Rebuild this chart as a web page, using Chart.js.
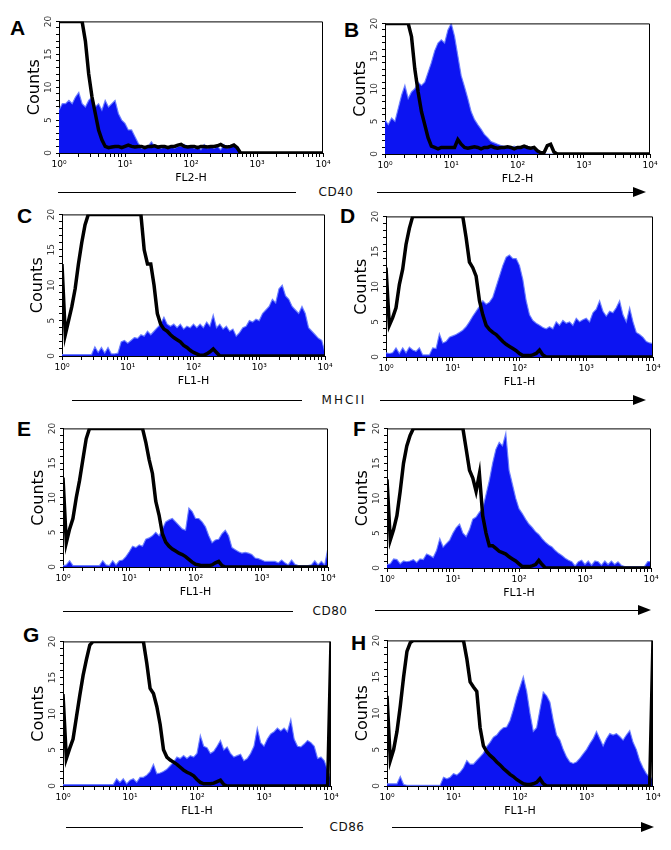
<!DOCTYPE html>
<html>
<head>
<meta charset="utf-8">
<script src="https://cdn.jsdelivr.net/npm/chart.js"></script>
<style>
  html, body { margin: 0; padding: 0; background: #fff; }
  #page { position: relative; width: 671px; height: 850px; overflow: hidden; }
  .panel { position: absolute; }
  .letter { position: absolute; font: bold 21px "Liberation Sans", Arial, sans-serif; line-height: 21px; color: #000; }
  .marker { position: absolute; font: 12px "DejaVu Sans", Verdana, sans-serif; color: #111; transform: translate(-50%, -50%); white-space: nowrap; }
  .rule { position: absolute; height: 1px; background: #000; }
  .head { position: absolute; width: 0; height: 0; border-top: 5px solid transparent; border-bottom: 5px solid transparent; border-left: 13px solid #000; }
</style>
</head>
<body>
<div id="page">
  <div class="letter" style="left:10px;top:17px">A</div>
  <div class="letter" style="left:344px;top:19px">B</div>
  <div class="letter" style="left:17px;top:205px">C</div>
  <div class="letter" style="left:340px;top:205px">D</div>
  <div class="letter" style="left:17px;top:418px">E</div>
  <div class="letter" style="left:353px;top:418px">F</div>
  <div class="letter" style="left:23px;top:624px">G</div>
  <div class="letter" style="left:351px;top:632px">H</div>

  <div class="rule" style="left:58px;top:192px;width:238px"></div>
  <div class="marker" style="left:336px;top:192px;letter-spacing:0.5px">CD40</div>
  <div class="rule" style="left:377px;top:192px;width:258px"></div>
  <div class="head" style="left:633px;top:187px"></div>

  <div class="rule" style="left:72px;top:400px;width:230px"></div>
  <div class="marker" style="left:344px;top:400px;letter-spacing:2px">MHCII</div>
  <div class="rule" style="left:380px;top:400px;width:255px"></div>
  <div class="head" style="left:633px;top:395px"></div>

  <div class="rule" style="left:63px;top:611px;width:230px"></div>
  <div class="marker" style="left:330px;top:611px;letter-spacing:0.5px">CD80</div>
  <div class="rule" style="left:375px;top:610px;width:264px"></div>
  <div class="head" style="left:638px;top:605px"></div>

  <div class="rule" style="left:66px;top:827px;width:237px"></div>
  <div class="marker" style="left:347px;top:827px;letter-spacing:0.5px">CD86</div>
  <div class="rule" style="left:392px;top:827px;width:250px"></div>
  <div class="head" style="left:641px;top:822px"></div>
</div>

<script>
// Histogram channels: 81 bins, 0.05 decade apart, from 10^0 to 10^4
const BIN_DECADES = 0.05;

// Decade tick marks (1..9 per decade) and their labels
const decades = [1, 10, 100, 1000];
const decadeLabels = { 1: "10\u2070", 10: "10\u00b9", 100: "10\u00b2", 1000: "10\u00b3", 10000: "10\u2074" };
const countTickLabels = [0, 5, 10, 15, 20];

// Isotype control (black line) and stained cells (blue fill), counts per bin
const ctrlA = [20, 20, 20, 20, 20, 20, 20, 20, 17, 12, 8.5, 6, 3.5, 2, 1, 0.8,
  0.9, 1, 1, 0.8, 1, 1.2, 1, 0.9, 1, 1, 0.8, 1, 1, 1.1, 0.9, 1, 1, 0.8, 1, 1,
  1.2, 1.3, 1, 0.9, 1, 1, 0.8, 1, 1, 0.9, 1, 1, 1.1, 1.3, 1, 0.9, 1, 1.2, 0.8,
  0, 0, 0, 0, 0, 0, 0, 0, 0, 0, 0, 0, 0, 0, 0, 0, 0, 0, 0, 0, 0, 0, 0, 0, 0, 0];
const cellsA = [6.5, 7.5, 7.5, 8, 7.5, 8.5, 9.2, 7.5, 7, 8, 8.5, 7, 7.5, 6.5, 8, 7,
  7.5, 8, 6, 5, 4.5, 3.5, 3.5, 2.5, 1.5, 0.7, 0.7, 1, 1.7, 1, 1, 0.7, 1, 0.7, 1,
  0.7, 1, 1, 1.3, 1, 1, 0.7, 1, 0.5, 1.3, 0.7, 1, 0.7, 1, 0.5, 1.3, 0.7, 1, 1.2,
  0.8, 0, 0, 0, 0, 0, 0, 0, 0, 0, 0, 0, 0, 0, 0, 0, 0, 0, 0, 0, 0, 0, 0, 0, 0, 0, 0];

const ctrlB = [20, 20, 20, 20, 20, 20, 20, 20, 18, 13, 9.5, 6.5, 4.5, 2.5, 1.2, 1,
  0.8, 1, 1, 1, 1, 1, 2.2, 1.5, 1, 0.9, 1, 1.1, 1, 0.8, 1, 1, 1.2, 1, 0.9, 1, 1,
  1.1, 1, 0.8, 1, 1, 1.2, 1, 0.9, 1, 0.5, 0.2, 0.2, 1.3, 1.5, 0.3,
  0, 0, 0, 0, 0, 0, 0, 0, 0, 0, 0, 0, 0, 0, 0, 0, 0, 0, 0, 0, 0, 0, 0, 0, 0, 0, 0, 0, 0];
const cellsB = [5.2, 4.5, 5.5, 5, 7, 9, 10.5, 8.5, 9.5, 10, 11, 10.5, 11, 12.5, 14,
  15.8, 17, 17.5, 17, 19, 20, 18, 15, 12, 10.3, 8.5, 6.5, 5.3, 4.5, 3.8, 3, 2.5,
  1.9, 1.7, 1.5, 1.3, 1.2, 1.1, 1, 1.2, 1, 1.1, 1, 1.2, 0.8, 0.8, 0.4,
  0, 0, 0, 0, 0, 0, 0, 0, 0, 0, 0, 0, 0, 0, 0, 0, 0, 0, 0, 0, 0, 0, 0, 0, 0, 0, 0, 0, 0, 0, 0, 0, 0, 0];

const ctrlC = [13, 3, 5, 7, 9.5, 13, 16, 18.5, 20, 20, 20, 20, 20, 20, 20, 20, 20,
  20, 20, 20, 20, 20, 20, 20, 20, 15, 13, 13, 10, 6, 4.5, 3.8, 3.5, 3, 2.6, 2.3,
  2, 1.5, 1.2, 0.8, 0.5, 0.3, 0.1, 0.1, 0.3, 0.6, 1, 0.5,
  0, 0, 0, 0, 0, 0, 0, 0, 0, 0, 0, 0, 0, 0, 0, 0, 0, 0, 0, 0, 0, 0, 0, 0, 0, 0, 0, 0, 0, 0, 0, 0, 0];
const cellsC = [0.2, 0.2, 0.2, 0.2, 0.2, 0.2, 0.2, 0.2, 0.2, 0.2, 1.3, 0.5, 1.2, 0.4,
  1.2, 0.3, 0.3, 0.4, 2, 2.2, 1.8, 2.2, 2.6, 2.5, 3, 2.8, 3.5, 3, 3.5, 4, 4.5,
  5.5, 4.5, 4.2, 4.5, 4, 4.5, 3.8, 4.2, 4, 4.5, 4, 4.5, 4, 4.8, 4.2, 5.8, 4, 4.5,
  3.8, 4.2, 3.5, 3.8, 2.8, 3.3, 4, 4.2, 5, 4.8, 5.2, 5, 6, 6.5, 7, 8, 7.5, 9.5,
  10, 8.5, 8, 7, 6.5, 6, 7, 6, 4, 3.5, 3, 2.5, 2.2, 0.5];

const ctrlD = [12.7, 4.5, 5.6, 7, 10.3, 12.5, 16, 18.3, 20, 20, 20, 20, 20, 20, 20,
  20, 20, 20, 20, 20, 20, 20, 20, 20, 17, 13.5, 12.7, 11.5, 8, 6, 4.5, 3.9, 3.5,
  3.2, 2.7, 2.2, 1.8, 1.5, 1.2, 0.9, 0.5, 0.2, 0.2, 0.2, 0.3, 0.5, 1, 0.3,
  0, 0, 0, 0, 0, 0, 0, 0, 0, 0, 0, 0, 0, 0, 0, 0, 0, 0, 0, 0, 0, 0, 0, 0, 0, 0, 0, 0, 0, 0, 0, 0, 0];
const cellsD = [0.6, 0.5, 0.6, 1.3, 0.5, 1.3, 0.6, 1.4, 1, 0.8, 1.3, 0.3, 0.3, 0.3,
  1.3, 1.2, 3.3, 2, 2.2, 2.8, 3, 3.2, 3.5, 3.8, 4.3, 5, 5.8, 6.5, 7.2, 8, 7.5,
  7.8, 8.5, 10, 11.5, 13, 14.2, 14.5, 14, 14, 13, 11, 8, 6, 5.2, 4.8, 4.5, 4.2,
  4, 4.3, 4, 5, 4.5, 5.2, 4.8, 5, 4.5, 5.5, 5, 5.3, 5.5, 5, 6.3, 6.8, 8, 6.5,
  5.8, 6.5, 6.3, 7, 8, 6, 5, 7, 5, 3.5, 3.2, 2.8, 2.2, 2, 1.9];

const ctrlE = [12.9, 3.5, 5.5, 7, 10, 12.5, 15.5, 18.5, 20, 20, 20, 20, 20, 20, 20,
  20, 20, 20, 20, 20, 20, 20, 20, 20, 20, 18, 15.5, 13.5, 9.5, 7.5, 4.8, 3.6, 3,
  2.6, 2.3, 2, 1.8, 1.5, 1.1, 0.7, 0.4, 0.3, 0.2, 0.2, 0.2, 0.3, 0.6, 0.8, 0.2,
  0, 0, 0, 0, 0, 0, 0, 0, 0, 0, 0, 0, 0, 0, 0, 0, 0, 0, 0, 0, 0, 0, 0, 0, 0, 0, 0, 0, 0, 0, 0, 0];
const cellsE = [0.2, 0.3, 0.9, 0.2, 0.2, 0.2, 0.2, 0.2, 0.2, 0.2, 0.2, 0.2, 0.9, 0.3,
  0.2, 0.9, 0.3, 0.9, 1, 1.5, 2.2, 3, 2.8, 3.2, 3, 4, 4.2, 4.5, 5, 4.5, 5.5, 6.5,
  6.8, 7, 6.5, 6, 5.5, 5.3, 8.5, 8, 7, 7, 6.5, 5.8, 4.5, 3.5, 3.9, 4, 4.8, 5.3,
  4.5, 2.8, 2.5, 2.2, 2, 2.1, 2, 1.8, 1.3, 1.2, 1, 0.8, 0.8, 0.8, 0.8, 0.6, 1,
  0.6, 0.3, 1, 0.4, 0.2, 0.2, 0.2, 0.2, 0.3, 0.9, 0.3, 0.8, 0.3, 2.8];

const ctrlF = [12.7, 4, 5.5, 7.5, 11, 15, 17.5, 19, 20, 20, 20, 20, 20, 20, 20, 20,
  20, 20, 20, 20, 20, 20, 20, 20, 17, 14, 12.9, 11, 13.5, 7.5, 5, 3.2, 3.2, 2.8,
  2.4, 2.2, 2, 1.6, 1.3, 1, 0.6, 0.2, 0.2, 0.2, 0.3, 0.5, 1.1, 0.5,
  0, 0, 0, 0, 0, 0, 0, 0, 0, 0, 0, 0, 0, 0, 0, 0, 0, 0, 0, 0, 0, 0, 0, 0, 0, 0, 0, 0, 0, 0, 0, 0, 0];
const cellsF = [0.5, 0.6, 1.3, 1.2, 0.6, 1, 0.9, 1, 1.2, 0.8, 1.3, 1.2, 2, 1.8, 1.5,
  2.5, 4.2, 3, 3.5, 4, 5, 5.8, 6.3, 5, 4.5, 5.5, 7, 7.3, 8, 8.5, 10.5, 12.5, 15,
  17, 18, 17.5, 19.3, 14, 12, 10, 8.5, 7.8, 7, 6.3, 5.8, 5.2, 4.8, 4.2, 3.7, 3.3,
  3, 2.5, 2.1, 1.8, 1.4, 1.1, 0.9, 0.3, 0.9, 1.1, 0.5, 1, 0.4, 1, 0.9, 0.4, 1,
  0.5, 1, 0.5, 0.9, 0.4, 0.2, 0.2, 0.2, 0.2, 0.2, 0.2, 0.2, 0.9, 0.9];

const ctrlG = [12.7, 3.8, 5.2, 6.5, 9.5, 12.5, 15.3, 17.5, 19.5, 20, 20, 20, 20, 20,
  20, 20, 20, 20, 20, 20, 20, 20, 20, 20, 20, 17, 13.5, 12.8, 11, 8.5, 5, 4, 3.6,
  3.3, 3, 2.6, 2.2, 1.9, 1.7, 1.4, 0.9, 0.5, 0.3, 0.3, 0.3, 0.4, 0.6, 0.8, 0.2,
  0, 0, 0, 0, 0, 0, 0, 0, 0, 0, 0, 0, 0, 0, 0, 0, 0, 0, 0, 0, 0, 0, 0, 0, 0, 0, 0, 0, 0, 0, 0, 20];
const cellsG = [0.2, 0.2, 0.2, 0.2, 0.2, 0.2, 0.2, 0.2, 0.2, 0.2, 0.2, 0.2, 0.2, 0.2,
  0.2, 0.2, 1, 0.5, 1, 0.3, 0.8, 1, 0.5, 1.2, 1.2, 1.5, 2, 3, 1.7, 1.8, 2, 2.3,
  2.8, 3.3, 4, 3.8, 4.2, 3.8, 4.2, 4, 4.5, 7, 5.5, 5.3, 4.5, 4.8, 5.5, 6.3, 5,
  5.4, 4.5, 4, 4.2, 4.4, 3.5, 3.8, 4.5, 5.5, 8, 6, 5.5, 6.5, 7.2, 7.5, 8, 7.6, 8,
  7.5, 9.2, 6.5, 5.5, 5.4, 5.8, 6.3, 6, 5.5, 3.8, 4, 3.5, 2.2, 1];

const ctrlH = [12.4, 3.5, 5, 7.5, 11, 15, 18.5, 19.7, 20, 20, 20, 20, 20, 20, 20, 20,
  20, 20, 20, 20, 20, 20, 20, 20, 17.5, 14.3, 13.6, 13, 8, 5.5, 4.7, 4.2, 3.8, 3.3,
  2.9, 2.4, 2, 1.6, 1.3, 0.9, 0.6, 0.3, 0.2, 0.2, 0.3, 0.5, 1, 0.3,
  0, 0, 0, 0, 0, 0, 0, 0, 0, 0, 0, 0, 0, 0, 0, 0, 0, 0, 0, 0, 0, 0, 0, 0, 0, 0, 0, 0, 0, 0, 0, 0, 20];
const cellsH = [0.3, 0.3, 0.3, 0.3, 1.3, 0.2, 0.1, 0.1, 0.1, 0.1, 0.1, 0.1, 0.1, 0.1,
  0.1, 0.1, 0.1, 1.2, 1, 1.2, 1.7, 1.5, 1.9, 2.5, 3.5, 3, 3, 3.5, 4, 4.5, 5.4, 6,
  6.7, 7, 7.6, 8, 8.1, 9, 10.5, 12.2, 13.6, 15, 13, 10, 7.5, 8, 10.5, 12.9, 12.4,
  11.5, 9, 7, 6.3, 5, 4, 3.3, 3.1, 3.3, 3.8, 4.4, 5, 5.8, 6.5, 7.5, 6.5, 5.5, 6.5,
  7.2, 7, 7.2, 6.8, 6.3, 7, 7.6, 6, 5, 3.5, 2.5, 1.7, 1.2, 1];

// Plot box of each panel on the page: [left, top, right, bottom]
const panels = [
  { box: [59, 20, 323, 153], xTitle: "FL2-H", ctrl: ctrlA, cells: cellsA },
  { box: [385, 22, 650, 154], xTitle: "FL2-H", ctrl: ctrlB, cells: cellsB },
  { box: [62, 213, 325, 356], xTitle: "FL1-H", ctrl: ctrlC, cells: cellsC },
  { box: [386, 215, 653, 357], xTitle: "FL1-H", ctrl: ctrlD, cells: cellsD },
  { box: [63, 427, 328, 567], xTitle: "FL1-H", ctrl: ctrlE, cells: cellsE },
  { box: [387, 427, 651, 568], xTitle: "FL1-H", ctrl: ctrlF, cells: cellsF },
  { box: [63, 640, 331, 786], xTitle: "FL1-H", ctrl: ctrlG, cells: cellsG },
  { box: [387, 639, 653, 786], xTitle: "FL1-H", ctrl: ctrlH, cells: cellsH },
];

const Y_AXIS_W = 40;
const X_AXIS_H = 36;
const PAD_TOP = 6;
const PAD_RIGHT = 14;

// Every 1..9 x 10^n position gets a tick mark, only decades get a label
const xTickValues = [];
decades.forEach((d) => {
  for (let m = 1; m <= 9; m++) xTickValues.push(d * m);
});
xTickValues.push(10000);

function toPoints(counts) {
  return counts.map((c, i) => ({ x: Math.pow(10, i * BIN_DECADES), y: c }));
}

// Draw the top and right sides of the plot frame
const framePlugin = {
  id: "frame",
  afterDraw(chart) {
    const { ctx, chartArea } = chart;
    ctx.save();
    ctx.strokeStyle = "#000";
    ctx.lineWidth = 1;
    ctx.beginPath();
    ctx.moveTo(chartArea.left, chartArea.top + 0.5);
    ctx.lineTo(chartArea.right - 0.5, chartArea.top + 0.5);
    ctx.lineTo(chartArea.right - 0.5, chartArea.bottom);
    ctx.stroke();
    ctx.restore();
  },
};

const page = document.getElementById("page");

panels.forEach((p) => {
  const [left, top, right, bottom] = p.box;
  const width = right - left + Y_AXIS_W + PAD_RIGHT;
  const height = bottom - top + PAD_TOP + X_AXIS_H;

  const holder = document.createElement("div");
  holder.className = "panel";
  holder.style.left = left - Y_AXIS_W + "px";
  holder.style.top = top - PAD_TOP + "px";
  const canvas = document.createElement("canvas");
  canvas.width = width;
  canvas.height = height;
  holder.appendChild(canvas);
  page.appendChild(holder);

  new Chart(canvas.getContext("2d"), {
    type: "line",
    data: {
      datasets: [
        {
          label: "Isotype",
          data: toPoints(p.ctrl),
          borderColor: "#000",
          borderWidth: 3.5,
          fill: false,
          order: 0,
        },
        {
          label: "Cells",
          data: toPoints(p.cells),
          borderColor: "rgba(105,125,255,0.9)",
          borderWidth: 1.2,
          backgroundColor: "#0c14f2",
          fill: "origin",
          order: 1,
        },
      ],
    },
    options: {
      responsive: false,
      animation: false,
      events: [],
      layout: { padding: { left: 0, top: PAD_TOP, right: PAD_RIGHT, bottom: 0 } },
      elements: { point: { radius: 0 }, line: { tension: 0 } },
      plugins: { legend: { display: false }, tooltip: { enabled: false } },
      scales: {
        x: {
          type: "logarithmic",
          min: 1,
          max: 10000,
          afterBuildTicks: (scale) => {
            scale.ticks = xTickValues.map((v) => ({ value: v }));
          },
          afterFit: (scale) => {
            scale.height = X_AXIS_H;
          },
          ticks: {
            autoSkip: false,
            maxRotation: 0,
            padding: 2,
            color: "#000",
            font: { family: "DejaVu Sans", size: 9 },
            callback: (v) => decadeLabels[v] || "",
          },
          grid: { drawOnChartArea: false, drawTicks: true, tickLength: 4, color: "#000" },
          border: { color: "#000", width: 1 },
          title: {
            display: true,
            text: p.xTitle,
            color: "#000",
            padding: { top: 0, bottom: 4 },
            font: { family: "DejaVu Sans", size: 11 },
          },
        },
        y: {
          min: 0,
          max: 20,
          afterFit: (scale) => {
            scale.width = Y_AXIS_W;
          },
          ticks: {
            stepSize: 1,
            autoSkip: false,
            minRotation: 90,
            maxRotation: 90,
            crossAlign: "center",
            padding: 2,
            color: "#333",
            font: { family: "DejaVu Sans", size: 9 },
            callback: (v) => (countTickLabels.includes(v) ? String(v) : ""),
          },
          grid: { drawOnChartArea: false, drawTicks: true, tickLength: 3, color: "#000" },
          border: { color: "#000", width: 1 },
          title: {
            display: true,
            text: "Counts",
            color: "#000",
            padding: { top: 6, bottom: 0 },
            font: { family: "DejaVu Sans", size: 16 },
          },
        },
      },
    },
    plugins: [framePlugin],
  });
});
</script>
</body>
</html>
